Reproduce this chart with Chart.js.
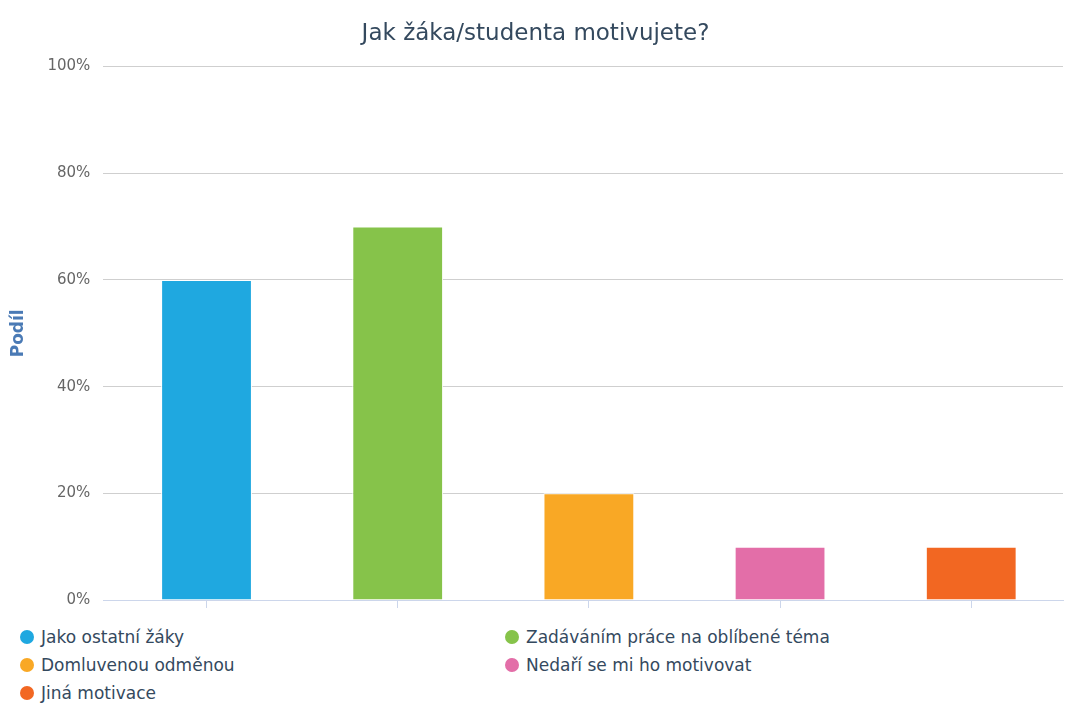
<!DOCTYPE html>
<html lang="cs">
<head>
<meta charset="utf-8">
<script src="https://cdn.jsdelivr.net/npm/chart.js@4"></script>
<style>
  html, body { margin: 0; padding: 0; background: #fff; }
  #wrap { position: relative; width: 1065px; height: 706px; }
  #box { position: absolute; left: 0; top: 0; width: 1065px; height: 622px; }
  #legend {
    position: absolute; left: 20px; top: 626px; width: 1040px;
    display: grid; grid-template-columns: 485px 485px; row-gap: 6px;
    font-family: "DejaVu Sans", sans-serif; font-size: 17px; color: #34495e;
  }
  #legend div { display: flex; align-items: center; height: 22px; white-space: nowrap; }
  #legend span.dot { width: 14px; height: 14px; border-radius: 50%; margin-right: 7px; display: inline-block; }
</style>
</head>
<body>
<div id="wrap">
  <div id="box"><canvas id="c"></canvas></div>
  <div id="legend"></div>
</div>
<script>
// data
const categories = ["Jako ostatní žáky", "Zadáváním práce na oblíbené téma", "Domluvenou odměnou", "Nedaří se mi ho motivovat", "Jiná motivace"];
const shares = [60, 70, 20, 10, 10];
const colors = ["#1fa8e0", "#86c34a", "#f9a825", "#e36ea8", "#f26722"];
const yTicks = [0, 20, 40, 60, 80, 100];

// legend, two columns like the original
const legend = document.getElementById('legend');
categories.forEach((name, i) => {
    const item = document.createElement('div');
    const dot = document.createElement('span');
    dot.className = 'dot';
    dot.style.background = colors[i];
    item.append(dot, document.createTextNode(name));
    legend.appendChild(item);
});

// one bar per category position (0..4) on a numeric axis,
// so the axis can keep the small extra room on the left like the original
const points = shares.map((v, i) => ({ x: i, y: v }));

const ctx = document.getElementById('c').getContext('2d');
new Chart(ctx, {
    type: 'bar',
    data: {
        datasets: [{
            label: 'Podíl',
            data: points,
            backgroundColor: colors,
            borderColor: '#ffffff',
            borderWidth: 1,
            categoryPercentage: 1,
            barPercentage: 0.475
        }]
    },
    options: {
        responsive: true,
        maintainAspectRatio: false,
        animation: false,
        layout: { padding: { left: 8, right: 2, top: 0, bottom: 0 } },
        plugins: {
            legend: { display: false },
            tooltip: { enabled: false },
            title: {
                display: true,
                text: 'Jak žáka/studenta motivujete?',
                color: '#34495e',
                font: { family: 'DejaVu Sans', size: 23, weight: 'normal' },
                padding: { top: 20, bottom: 19 }
            }
        },
        scales: {
            x: {
                type: 'linear',
                min: -0.54,
                max: 4.48,
                offset: false,
                afterBuildTicks: (scale) => { scale.ticks = categories.map((c, i) => ({ value: i })); },
                ticks: { display: false },
                border: { color: '#ccd6eb' },
                grid: { offset: false, drawOnChartArea: false, tickLength: 8, color: '#ccd6eb' }
            },
            y: {
                min: 0,
                max: 100,
                afterBuildTicks: (scale) => { scale.ticks = yTicks.map(v => ({ value: v })); },
                ticks: {
                    padding: 13,
                    color: '#666666',
                    font: { family: 'DejaVu Sans', size: 15 },
                    callback: (v) => v + '%'
                },
                border: { display: false },
                grid: { color: '#cfcfcf', drawTicks: false },
                title: {
                    display: true,
                    text: 'Podíl',
                    color: '#4a7ab5',
                    font: { family: 'DejaVu Sans', size: 17, weight: 'bold' },
                    padding: { top: 0, bottom: 6 }
                }
            }
        }
    }
});
</script>
</body>
</html>
